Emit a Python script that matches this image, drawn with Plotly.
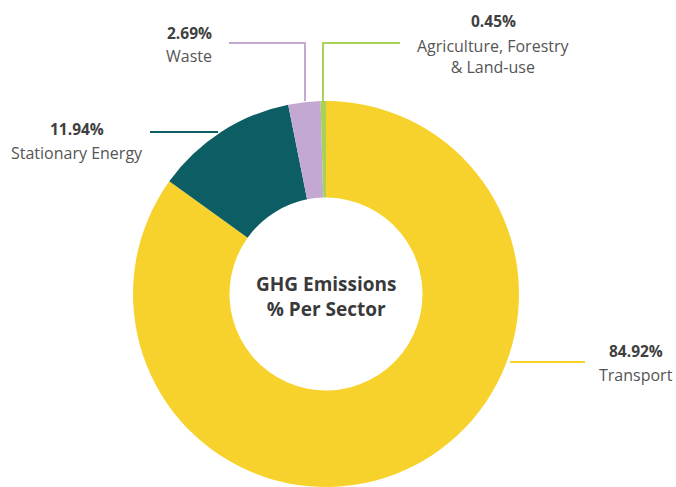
import plotly.graph_objects as go

sectors = ["Transport", "Stationary Energy", "Waste", "Agriculture, Forestry & Land-use"]
label_lines = ["Transport", "Stationary Energy", "Waste", "Agriculture, Forestry<br>& Land-use"]
values = [84.92, 11.94, 2.69, 0.45]
colors = ["#F8D22C", "#0C5E64", "#C3A8D2", "#A8D256"]

W, H = 676, 487

def px(x, y):
    return x / W, 1 - y / H

cx, cy, R = 326, 294, 193

fig = go.Figure(go.Pie(
    labels=sectors, values=values, sort=False, direction="clockwise", rotation=0,
    hole=0.5, textinfo="none", hoverinfo="label+percent",
    marker=dict(colors=colors, line=dict(width=0)),
    domain=dict(x=[(cx - R) / W, (cx + R) / W], y=[1 - (cy + R) / H, 1 - (cy - R) / H]),
    showlegend=False,
))

font = "Open Sans, Noto Sans, sans-serif"

# label positions (pixel) : (x, y_pct, y_label)
label_pos = {
    "Transport": (636, 351, 375),
    "Stationary Energy": (77, 129, 153),
    "Waste": (189, 33, 56),
    "Agriculture, Forestry & Land-use": (493, 21, 56),
}
annotations = []
for s, lab, v in zip(sectors, label_lines, values):
    x, yp, yl = label_pos[s]
    ax_, ay_ = px(x, yp)
    annotations.append(dict(x=ax_, y=ay_, xref="paper", yref="paper", showarrow=False,
                            text=f"<b>{v:.2f}%</b>", font=dict(family=font, size=15.5, color="#404040"),
                            xanchor="center", yanchor="middle"))
    bx, by = px(x, yl)
    annotations.append(dict(x=bx, y=by, xref="paper", yref="paper", showarrow=False,
                            text=lab, font=dict(family=font, size=16, color="#555555"),
                            xanchor="center", yanchor="middle"))

cxp, cyp = px(cx, 296)
annotations.append(dict(x=cxp, y=cyp, xref="paper", yref="paper", showarrow=False,
                        text="<b>GHG Emissions<br>% Per Sector</b>",
                        font=dict(family=font, size=19, color="#3a3a3a"),
                        xanchor="center", yanchor="middle"))

# leader lines (pixel paths)
leaders = [
    ([(510, 362), (585, 362)], colors[0]),
    ([(150, 132), (218, 132)], colors[1]),
    ([(229, 43), (305, 43), (305, 101)], colors[2]),
    ([(400, 43), (323, 43), (323, 101)], colors[3]),
]
shapes = []
for pts, c in leaders:
    path = "M " + " L ".join(f"{px(x, y)[0]},{px(x, y)[1]}" for x, y in pts)
    shapes.append(dict(type="path", path=path, xref="paper", yref="paper",
                       line=dict(color=c, width=2), layer="below"))

fig.update_layout(
    width=W, height=H, margin=dict(l=0, r=0, t=0, b=0),
    paper_bgcolor="white", plot_bgcolor="white",
    annotations=annotations, shapes=shapes,
)

fig.write_html("out.html")
